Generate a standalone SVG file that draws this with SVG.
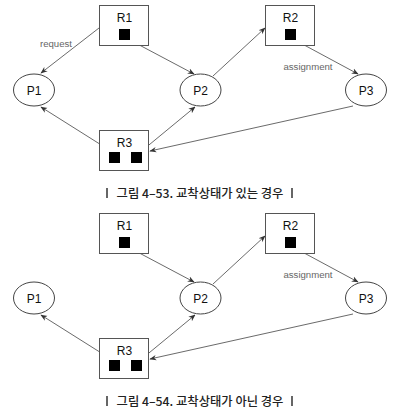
<svg xmlns="http://www.w3.org/2000/svg" width="402" height="414" viewBox="0 0 402 414">
<style>
.box{fill:#fff;stroke:#555;stroke-width:1}
.proc{fill:#fff;stroke:#444;stroke-width:1}
.res{fill:#000}
.lbl{font-family:"Liberation Sans",Arial,sans-serif;font-size:12px;fill:#111;text-anchor:middle}
.edge{font-family:"Liberation Sans",Arial,sans-serif;font-size:9.6px;fill:#666;text-anchor:middle}
.cap{font-family:"Noto Sans CJK KR","Noto Sans",sans-serif;font-size:12.3px;font-weight:500;fill:#222;text-anchor:middle}
.bar{fill:#666}
.conn line{stroke:#444;stroke-width:0.8;marker-end:url(#ah)}
</style>
<defs>
<marker id="ah" viewBox="0 0 10 10" refX="9" refY="5" markerWidth="7" markerHeight="7" markerUnits="userSpaceOnUse" orient="auto">
<path d="M0,1 L10,5 L0,9 L3,5 Z" fill="#333"/>
</marker>
</defs>

<!-- Diagram 1 -->
<g id="d1-connectors" class="conn">
<line x1="99" y1="28" x2="41" y2="73"/>
<line x1="128" y1="39" x2="194" y2="74"/>
<line x1="213" y1="76" x2="265" y2="28"/>
<line x1="293" y1="39" x2="358" y2="74"/>
<line x1="114" y1="153" x2="41" y2="107"/>
<line x1="138" y1="154" x2="195" y2="107"/>
<line x1="353" y1="106" x2="150" y2="151"/>
</g>
<text class="edge" x="56" y="47">request</text>
<text class="edge" x="308" y="70">assignment</text>
<g id="d1-R1"><rect class="box" x="99.5" y="5.5" width="49" height="40"/><text class="lbl" x="124.5" y="22">R1</text><rect class="res" x="119" y="29" width="11" height="11"/></g>
<g id="d1-R2"><rect class="box" x="265.5" y="5.5" width="49" height="40"/><text class="lbl" x="290.5" y="22">R2</text><rect class="res" x="285" y="29" width="11" height="11"/></g>
<g id="d1-R3"><rect class="box" x="99.5" y="130.5" width="49" height="40"/><text class="lbl" x="124.5" y="147">R3</text><rect class="res" x="109" y="152" width="11" height="11"/><rect class="res" x="131" y="152" width="11" height="11"/></g>
<g id="d1-P1"><ellipse class="proc" cx="34" cy="90" rx="20.5" ry="16"/><text class="lbl" x="34" y="94.5">P1</text></g>
<g id="d1-P2"><ellipse class="proc" cx="200.5" cy="90" rx="20.5" ry="16"/><text class="lbl" x="200.5" y="94.5">P2</text></g>
<g id="d1-P3"><ellipse class="proc" cx="366" cy="90" rx="20.5" ry="16"/><text class="lbl" x="366" y="94.5">P3</text></g>
<g id="d1-caption"><rect class="bar" x="106" y="188" width="2" height="10"/><text class="cap" x="200" y="198">그림 4–53. 교착상태가 있는 경우</text><rect class="bar" x="291" y="188" width="2" height="10"/></g>

<!-- Diagram 2 -->
<g transform="translate(0,208)">
<g id="d2-connectors" class="conn">
<line x1="128" y1="39" x2="194" y2="74"/>
<line x1="213" y1="76" x2="265" y2="28"/>
<line x1="293" y1="39" x2="358" y2="74"/>
<line x1="114" y1="153" x2="41" y2="107"/>
<line x1="138" y1="154" x2="195" y2="107"/>
<line x1="353" y1="106" x2="150" y2="151"/>
</g>
<text class="edge" x="308" y="70">assignment</text>
<g id="d2-R1"><rect class="box" x="99.5" y="5.5" width="49" height="40"/><text class="lbl" x="124.5" y="22">R1</text><rect class="res" x="119" y="29" width="11" height="11"/></g>
<g id="d2-R2"><rect class="box" x="265.5" y="5.5" width="49" height="40"/><text class="lbl" x="290.5" y="22">R2</text><rect class="res" x="285" y="29" width="11" height="11"/></g>
<g id="d2-R3"><rect class="box" x="99.5" y="130.5" width="49" height="40"/><text class="lbl" x="124.5" y="147">R3</text><rect class="res" x="109" y="152" width="11" height="11"/><rect class="res" x="131" y="152" width="11" height="11"/></g>
<g id="d2-P1"><ellipse class="proc" cx="34" cy="90" rx="20.5" ry="16"/><text class="lbl" x="34" y="94.5">P1</text></g>
<g id="d2-P2"><ellipse class="proc" cx="200.5" cy="90" rx="20.5" ry="16"/><text class="lbl" x="200.5" y="94.5">P2</text></g>
<g id="d2-P3"><ellipse class="proc" cx="366" cy="90" rx="20.5" ry="16"/><text class="lbl" x="366" y="94.5">P3</text></g>
<g id="d2-caption"><rect class="bar" x="106" y="188" width="2" height="10"/><text class="cap" x="200" y="198">그림 4–54. 교착상태가 아닌 경우</text><rect class="bar" x="291" y="188" width="2" height="10"/></g>
</g>
</svg>
